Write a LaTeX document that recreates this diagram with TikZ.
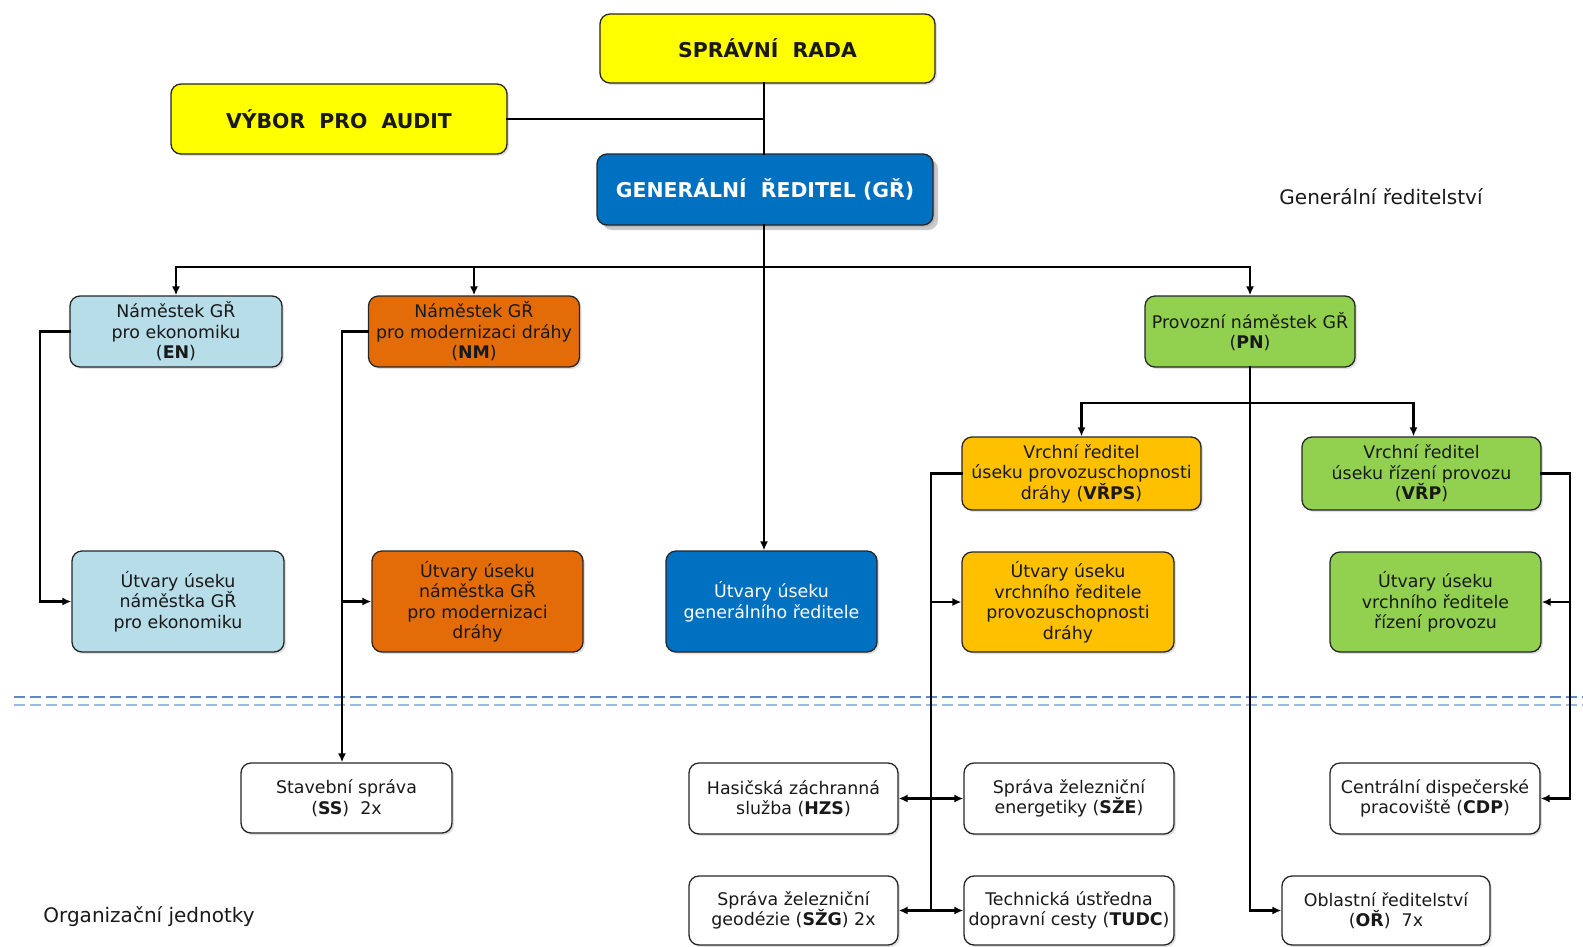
\documentclass[tikz,border=0pt]{standalone}
\usepackage{fontspec}
\setmainfont{DejaVu Sans}
\usetikzlibrary{arrows.meta,shadows}
\definecolor{cyel}{HTML}{FFFF00}
\definecolor{cblue}{HTML}{0070C0}
\definecolor{clblue}{HTML}{B7DDE8}
\definecolor{corange}{HTML}{E36C09}
\definecolor{camber}{HTML}{FFC000}
\definecolor{cgreen}{HTML}{92D050}
\definecolor{cdash1}{HTML}{5B8AD0}
\definecolor{cdash2}{HTML}{9CB8E4}
\tikzset{
  box/.style={draw=black!85, line width=1.3pt, rounded corners=10pt, align=center,
    inner sep=0pt, font=\fontsize{17.4}{20.5}\selectfont, text=black!90,
    drop shadow={shadow xshift=2pt, shadow yshift=-2pt, opacity=0.2, fill=black!60}},
  bigshadow/.style={drop shadow={shadow xshift=5pt, shadow yshift=-5pt, opacity=0.35, fill=black!60}},
  head/.style={font=\fontsize{20.4}{24}\selectfont\bfseries},
  conn/.style={line width=2.6pt, line cap=rect},
  arr/.style={conn, -{Latex[length=9pt,width=8pt]}},
  darr/.style={conn, {Latex[length=9pt,width=8pt]}-{Latex[length=9pt,width=8pt]}},
  lbl/.style={font=\fontsize{20}{24}\selectfont, text=black!90, inner sep=0pt},
}
\begin{document}
\begin{tikzpicture}[x=1pt,y=-1pt]
\path[use as bounding box] (0,0) rectangle (1583,946);
% top level
\node[box, head, fill=cyel, minimum width=335, minimum height=69] (rada) at (767.5,48.5) {SPRÁVNÍ~~RADA};
\node[box, head, fill=cyel, minimum width=336, minimum height=70] (audit) at (339,119) {VÝBOR~~PRO~~AUDIT};
\node[box, head, bigshadow, fill=cblue, text=white, minimum width=336, minimum height=71] (gr) at (765,189.5) {GENERÁLNÍ~~ŘEDITEL (GŘ)};
% deputies
\node[box, fill=clblue, minimum width=212, minimum height=71] (en) at (176,331.5) {Náměstek GŘ\\pro ekonomiku\\(\textbf{EN})};
\node[box, fill=corange, minimum width=211, minimum height=71] (nm) at (474,331.5) {Náměstek GŘ\\pro modernizaci dráhy\\(\textbf{NM})};
\node[box, fill=cgreen, minimum width=210, minimum height=71] (pn) at (1250,331.5) {Provozní náměstek GŘ\\(\textbf{PN})};
\node[box, fill=camber, minimum width=239, minimum height=73] (vrps) at (1081.5,473.5) {Vrchní ředitel\\úseku provozuschopnosti\\dráhy (\textbf{VŘPS})};
\node[box, fill=cgreen, minimum width=239, minimum height=73] (vrp) at (1421.5,473.5) {Vrchní ředitel\\úseku řízení provozu\\(\textbf{VŘP})};
% units
\node[box, fill=clblue, minimum width=212, minimum height=101] (uen) at (178,601.5) {Útvary úseku\\náměstka GŘ\\pro ekonomiku};
\node[box, fill=corange, minimum width=211, minimum height=101] (unm) at (477.5,601.5) {Útvary úseku\\náměstka GŘ\\pro modernizaci\\dráhy};
\node[box, fill=cblue, text=white, minimum width=211, minimum height=101] (ugr) at (771.5,601.5) {Útvary úseku\\generálního ředitele};
\node[box, fill=camber, minimum width=212, minimum height=100] (uvrps) at (1068,602) {Útvary úseku\\vrchního ředitele\\provozuschopnosti\\dráhy};
\node[box, fill=cgreen, minimum width=211, minimum height=100] (uvrp) at (1435.5,602) {Útvary úseku\\vrchního ředitele\\řízení provozu};
% organizational units
\node[box, fill=white, minimum width=211, minimum height=70] (ss) at (346.5,798) {Stavební správa\\(\textbf{SS})~~2x};
\node[box, fill=white, minimum width=209, minimum height=71] (hzs) at (793.5,798.5) {Hasičská záchranná\\služba (\textbf{HZS})};
\node[box, fill=white, minimum width=210, minimum height=71] (sze) at (1069,798.5) {Správa železniční\\energetiky (\textbf{SŽE})};
\node[box, fill=white, minimum width=210, minimum height=71] (cdp) at (1435,798.5) {Centrální dispečerské\\pracoviště (\textbf{CDP})};
\node[box, fill=white, minimum width=209, minimum height=69] (szg) at (793.5,910.5) {Správa železniční\\geodézie (\textbf{SŽG}) 2x};
\node[box, fill=white, minimum width=210, minimum height=69] (tudc) at (1069,910.5) {Technická ústředna\\dopravní cesty (\textbf{TUDC})};
\node[box, fill=white, minimum width=208, minimum height=69] (or) at (1386,910.5) {Oblastní ředitelství\\(\textbf{OŘ})~~7x};
% labels
\node[lbl] (lgr) at (1381,197) {Generální ředitelství};
\node[lbl] (loj) at (149,917) {Organizační jednotky};
% dashed separators
\draw[cdash1, line width=2pt, dash pattern=on 11pt off 5pt] (14,697) -- (1583,697);
\draw[cdash2, line width=2pt, dash pattern=on 11pt off 5pt] (14,705) -- (1583,705);
% helper coordinates
\coordinate (t) at (764,0);
\coordinate (bus) at (0,267);
\coordinate (br) at (0,403);
\coordinate (enx) at (40,0);
\coordinate (nmx) at (342,0);
\coordinate (vx) at (931,0);
\coordinate (rx) at (1570,0);
% connectors
\draw[conn] (rada.south -| t) -- (gr.north -| t);
\draw[conn] (audit.east) -- (audit.east -| t);
\draw[arr] (gr.south -| t) -- (ugr.north -| t);
\draw[arr] (t |- bus) -| (en.north);
\draw[arr] (t |- bus) -| (nm.north);
\draw[arr] (t |- bus) -| (pn.north);
\draw[arr] (en.west) -| (enx |- uen.west) -- (uen.west);
\draw[arr] (nm.west) -| (nmx |- ss.north);
\draw[arr] (nmx |- unm.west) -- (unm.west);
\draw[arr] (pn.south) |- (or.west);
\draw[arr] (pn.south |- br) -| (vrps.north);
\draw[arr] (pn.south |- br) -| ([xshift=-8pt]vrp.north);
\draw[conn] (vrps.west) -| (vx |- tudc.west);
\draw[arr] (vx |- uvrps.west) -- (uvrps.west);
\draw[darr] (hzs.east) -- (sze.west);
\draw[darr] (szg.east) -- (tudc.west);
\draw[arr] (vrp.east) -| (rx |- cdp.east) -- (cdp.east);
\draw[arr] (rx |- uvrp.east) -- (uvrp.east);
\end{tikzpicture}
\end{document}
